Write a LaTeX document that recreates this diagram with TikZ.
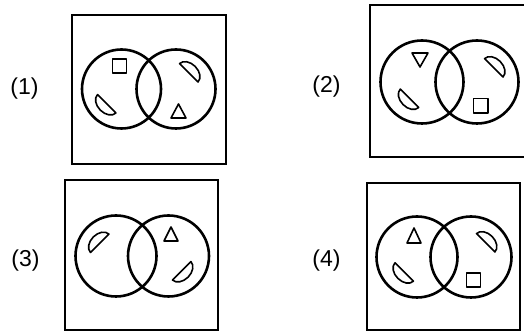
\documentclass[tikz,border=0pt]{standalone}
\usepackage{fontspec}
\setmainfont{Liberation Sans}
\tikzset{
  frame/.style={line width=2pt},
  venn/.style={line width=2.6pt},
  figline/.style={line width=1.6pt, line join=round},
  lbl/.style={font=\fontsize{23}{25}\selectfont, inner sep=0pt}
}
\newcommand{\hdisc}[3]{\draw[figline,shift={(#1,#2)},rotate=#3] (0,13) arc[start angle=90,end angle=-90,x radius=9,y radius=13] -- cycle;}
\begin{document}
\begin{tikzpicture}[x=1pt,y=1pt]
\useasboundingbox (0,0) rectangle (524,331);
\clip (0,0) rectangle (524,331);
% labels
\node[lbl] (l1) at (24.5,242) {(1)};
\node[lbl] (l2) at (326.5,244.5) {(2)};
\node[lbl] (l3) at (25.5,70) {(3)};
\node[lbl] (l4) at (326.5,70.5) {(4)};
% panel 1
\draw[frame] (72,167) rectangle (226,316);
\draw[venn] (121.5,242) circle[radius=39.5];
\draw[venn] (176,242) circle[radius=39.5];
\draw[figline] (112.5,258) rectangle (126.5,272);
\draw[figline] (171,213) -- (186,213) -- (178.5,227) -- cycle;
\hdisc{106.7}{227.2}{225}
\hdisc{188.8}{258.2}{45}
% panel 2
\draw[frame] (370,174) rectangle (530,326);
\draw[venn] (422,249) circle[radius=41.5];
\draw[venn] (477,249) circle[radius=41.5];
\draw[figline] (412,278) -- (428,278) -- (420,264) -- cycle;
\draw[figline] (473.3,218) rectangle (487.7,232.5);
\hdisc{409.5}{232.7}{225}
\hdisc{493.8}{263.2}{45}
% panel 3
\draw[frame] (65,1) rectangle (218,151);
\draw[venn] (116,75) circle[radius=40.5];
\draw[venn] (168.5,75) circle[radius=40.5];
\draw[figline] (164,90) -- (178,90) -- (171,104) -- cycle;
\hdisc{99.7}{87.7}{135}
\hdisc{181.7}{60.2}{-45}
% panel 4
\draw[frame] (367,1) rectangle (520,148);
\draw[venn] (417,74) circle[radius=40.5];
\draw[venn] (471,74) circle[radius=40.5];
\draw[figline] (407,88) -- (421,88) -- (414,103) -- cycle;
\draw[figline] (466.5,44) rectangle (480.5,58);
\hdisc{404.2}{59}{225}
\hdisc{485.7}{88.2}{45}
\end{tikzpicture}
\end{document}
